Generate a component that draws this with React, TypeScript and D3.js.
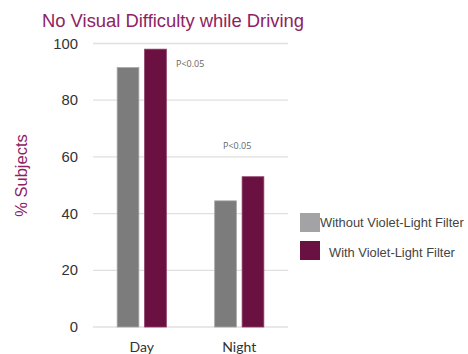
import React from "react";
import * as d3 from "d3";

const categories = ["Day", "Night"];
const seriesNames = ["Without Violet-Light Filter", "With Violet-Light Filter"];
const withoutFilter = [91.5, 44.5];
const withFilter = [98, 53];
const yTicks = [0, 20, 40, 60, 80, 100];
const pLabels = ["P<0.05", "P<0.05"];

const W = 468;
const H = 354;
const left = 93;
const right = 288;
const top = 43.5;
const bottom = 327;

const barColors = ["#7c7c7c", "#6b1142"];
const barStroke = ["#a6a6a6", "#8a3a62"];
const legendColors = ["#a3a3a5", "#6b1142"];
const maroon = "#8e2263";

export default function App() {
  const x = d3.scaleBand<string>().domain(categories).range([left, right]).padding(0);
  const inner = d3
    .scaleBand<string>()
    .domain(seriesNames)
    .range([0, x.bandwidth()])
    .paddingInner(0.21)
    .paddingOuter(0.88);
  const y = d3.scaleLinear().domain([0, 100]).range([bottom, top]);
  const series = [withoutFilter, withFilter];

  return (
    <svg
      width={W}
      height={H}
      style={{ position: "absolute", left: 0, top: 0, background: "#fff" }}
      fontFamily="'Liberation Sans', Arial, sans-serif"
    >
      <text x={42} y={26.5} fontSize={18.4} fill={maroon}>
        No Visual Difficulty while Driving
      </text>

      {yTicks.map((t) => (
        <g key={t}>
          <line x1={left} x2={right} y1={y(t)} y2={y(t)} stroke="#e0e0e0" strokeWidth={1.3} />
          <text x={78} y={y(t)} dy="0.35em" textAnchor="end" fontSize={14.8} fill="#333">
            {t}
          </text>
        </g>
      ))}

      <text
        transform={`translate(26.5, 175.5) rotate(-90)`}
        textAnchor="middle"
        fontSize={16.5}
        fill={maroon}
      >
        % Subjects
      </text>

      {categories.map((c, i) => (
        <g key={c}>
          {seriesNames.map((s, k) => {
            const x0 = (x(c) ?? 0) + (inner(s) ?? 0);
            const v = series[k][i];
            return (
              <rect
                key={s}
                x={x0}
                y={y(v)}
                width={inner.bandwidth()}
                height={y(0) - y(v)}
                fill={barColors[k]}
                stroke={barStroke[k]}
                strokeWidth={0.8}
              />
            );
          })}
          <text
            x={(x(c) ?? 0) + x.bandwidth() / 2}
            y={351.5}
            textAnchor="middle"
            fontSize={14}
            fill="#333"
            fontFamily="Lato, 'Open Sans', sans-serif"
          >
            {c}
          </text>
        </g>
      ))}

      <text x={176} y={67} fontSize={9} fill="#666" fontFamily="'Open Sans', sans-serif">
        {pLabels[0]}
      </text>
      <text x={223} y={149} fontSize={9} fill="#666" fontFamily="'Open Sans', sans-serif">
        {pLabels[1]}
      </text>

      {seriesNames.map((s, k) => (
        <g key={s}>
          <rect x={300} y={213 + k * 28} width={20} height={19} fill={legendColors[k]} />
          <text
            x={k === 0 ? 320 : 329}
            y={222 + k * 30}
            dy="0.35em"
            fontSize={12.9}
            fill="#444"
          >
            {s}
          </text>
        </g>
      ))}
    </svg>
  );
}
